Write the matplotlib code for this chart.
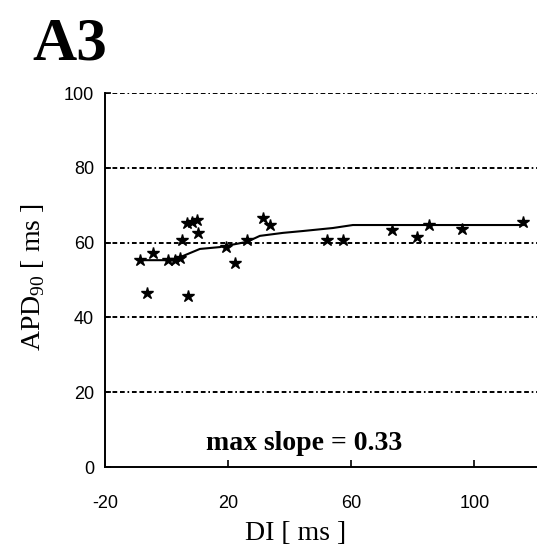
import matplotlib
matplotlib.use("Agg")
import matplotlib.pyplot as plt

# measured points (DI, APD90)
di = [-8.6, -4.4, 0.5, 2.7, 4.4, -6.4, 6.9, 5.0, 6.6, 8.2, 9.9, 10.2,
      19.3, 22.2, 26.1, 31.3, 33.6, 52.1, 57.3, 73.2, 81.3, 85.2, 95.9, 115.7]
apd = [55.3, 57.2, 55.3, 55.3, 55.9, 46.5, 45.7, 60.7, 65.2, 65.5, 66.0, 62.6,
       58.8, 54.5, 60.7, 66.6, 64.7, 60.7, 60.7, 63.4, 61.5, 64.7, 63.6, 65.5]

# fitted restitution curve
fit_di = [-8.6, 1.1, 4.4, 10.8, 17.3, 26.1, 30.3, 37.8, 44.3, 54.0, 60.5, 115.7]
fit_apd = [55.3, 55.3, 56.1, 58.3, 58.8, 60.2, 61.8, 62.6, 63.1, 63.9, 64.7, 64.7]

xticks = [-20, 20, 60, 100]
yticks = [0, 20, 40, 60, 80, 100]

plt.rcParams['lines.scale_dashes'] = False
plt.rcParams['axes.unicode_minus'] = False
plt.rcParams['mathtext.fontset'] = 'custom'
plt.rcParams['mathtext.rm'] = 'Liberation Serif'
serif = ['Liberation Serif', 'DejaVu Serif']
sans = ['Liberation Sans', 'DejaVu Sans']

fig = plt.figure(figsize=(5.37, 5.47), dpi=100)
ax = fig.add_axes([105/537, 1-467/547, 1-105/537, (467-93)/547])

for y in yticks[1:]:
    ax.axhline(y, color='black', lw=1.4, dashes=(3.4, 2.0, 3.4, 2.0, 3.4, 2.0, 1.2, 2.0), zorder=1)

ax.plot(fit_di, fit_apd, color='black', lw=1.5, zorder=2)
ax.plot(di, apd, ls='none', marker='*', ms=9, color='black', zorder=3)

ax.set_xlim(-20, 120.3)
ax.set_ylim(0, 100)
ax.set_xticks(xticks)
ax.set_yticks(yticks)
for s in ['top', 'right']:
    ax.spines[s].set_visible(False)
for s in ['left', 'bottom']:
    ax.spines[s].set_linewidth(1.4)
ax.tick_params(axis='x', direction='in', length=5, width=1.2, pad=20, labelsize=13)
ax.tick_params(axis='y', direction='in', length=4, width=1.2, pad=8, labelsize=13)
for lab in ax.get_xticklabels() + ax.get_yticklabels():
    lab.set_family(sans)

ax.text(44.6, 6.4, 'max slope = 0.33', family=serif, fontweight='bold', fontsize=20,
        ha='center', va='center')

fig.text(296/537, 1-533/547, 'DI [ ms ]', family=serif, fontsize=20, ha='center', va='center')
fig.text(33/537, 1-277/547, r'APD$_{\rm 90}$ [ ms ]', family=serif, fontsize=20,
         rotation=90, ha='center', va='center')
fig.text(32/537, 1-60/547, 'A3', family=serif, fontweight='bold', fontsize=44,
         ha='left', va='baseline')

fig.savefig('out.png', dpi=100)
